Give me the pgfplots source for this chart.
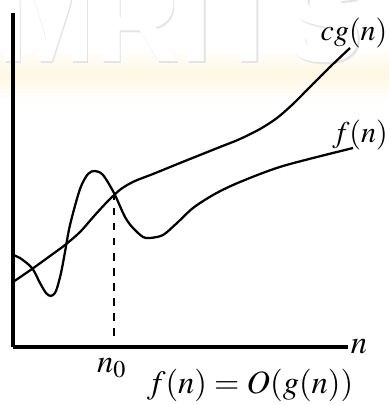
\documentclass[border=0pt]{standalone}
\usepackage{mathptmx}
\usepackage{fontspec}
\setsansfont{Liberation Sans}
\usepackage{pgfplots}
\pgfplotsset{compat=1.18}
\definecolor{wmgray}{RGB}{228,228,228}
\definecolor{wmband}{RGB}{255,247,228}

\begin{document}
\begin{tikzpicture}
\begin{axis}[
  x=0.4pt, y=0.4pt,
  xmin=0, xmax=335, ymin=0, ymax=334,
  axis lines=left,
  axis line style={-, line width=1.3pt},
  axis on top,
  xtick=\empty, ytick=\empty,
  clip=false,
]
% watermark (behind the curves)
\shade[top color=white, bottom color=white, middle color=wmband]
  (axis cs:-13,245) rectangle (axis cs:376,300);
\node[font=\sffamily\bfseries\fontsize{47}{47}\selectfont, text=wmgray, anchor=base]
  at (axis cs:168.6,283.4) {MRITS};
\node[font=\sffamily\bfseries\fontsize{47}{47}\selectfont, text=white, anchor=base]
  at (axis cs:167,285) {MRITS};

% cg(n)
\addplot[black, line width=0.9pt, smooth, tension=0.5] coordinates {
  (0,65)(19,78)(37,91)(52,102)(67,115)(82,132)(95,146)(108,158)(122,166)
  (140,173)(167,184)(187,192)(207,200)(227,208)(247,218)(264,229)(280,243)
  (297,260)(317,280)(337,299)};
% f(n)
\addplot[black, line width=0.9pt, smooth, tension=0.5] coordinates {
  (0,92)(7,89)(19,79)(27,64)(33,54)(38,51)(43,56)(48,74)(52,95)(57,122)
  (67,158)(75,173)(82,176)(90,172)(101,154)(112,130)(120,119)(130,110)
  (137,109)(150,112)(164,124)(180,139)(200,152)(220,162)(247,173)(270,181)
  (300,189)(340,199)};
% n0 marker
\draw[black, dashed, line width=0.7pt] (axis cs:101,154) -- (axis cs:101,5);

\node[font=\fontsize{12}{12}\selectfont] at (axis cs:341,314) {$cg(n)$};
\node[font=\fontsize{12}{12}\selectfont] at (axis cs:347,212) {$f(n)$};
\node[font=\fontsize{13}{13}\selectfont] at (axis cs:346,0) {$n$};
\node[font=\fontsize{13}{13}\selectfont] at (axis cs:99,-21) {$n_0$};
\node[font=\fontsize{13}{13}\selectfont] at (axis cs:237,-38) {$f(n) = O(g(n))$};

\coordinate (bl) at (axis cs:-13,-58);
\coordinate (tr) at (axis cs:376,347);
\end{axis}
\pgfresetboundingbox
\path[use as bounding box] (bl) rectangle (tr);
\end{tikzpicture}
\end{document}
